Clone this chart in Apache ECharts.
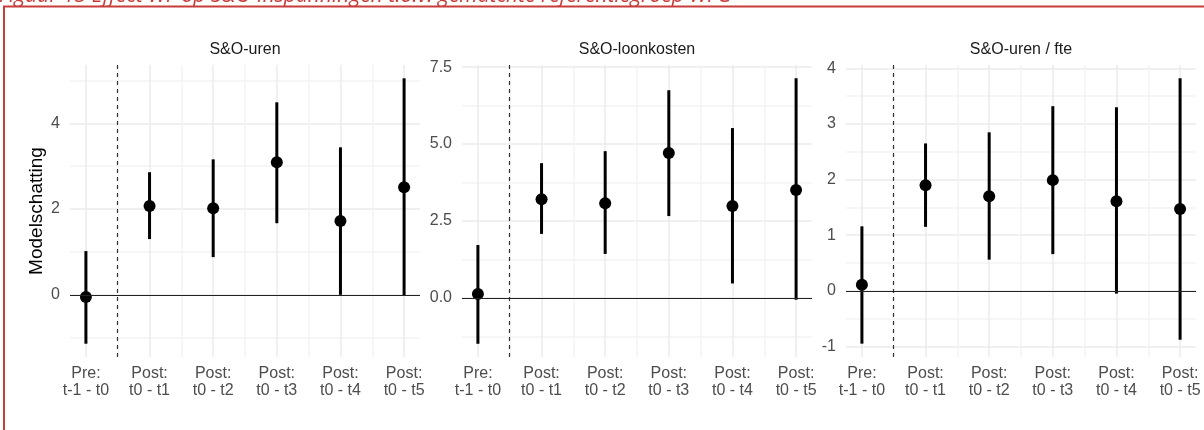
<!DOCTYPE html>
<html>
<head>
<meta charset="utf-8">
<script src="https://cdn.jsdelivr.net/npm/echarts@6/dist/echarts.min.js"></script>
<style>
  html, body { margin: 0; padding: 0; background: #fff; }
  #chart { width: 1204px; height: 430px; }
</style>
</head>
<body>
<div id="chart"></div>
<script>
// x-as: periodes (posities 1..6)
const periods = ['Pre:\nt-1 - t0', 'Post:\nt0 - t1', 'Post:\nt0 - t2', 'Post:\nt0 - t3', 'Post:\nt0 - t4', 'Post:\nt0 - t5'];
const periodPos = [1, 2, 3, 4, 5, 6];
const xGridVals = [1, 1.5, 2, 2.5, 3, 3.5, 4, 4.5, 5, 5.5, 6];

const panelTitles = ['S&O-uren', 'S&O-loonkosten', 'S&O-uren / fte'];

// S&O-uren
const urenEst = [-0.05, 2.07, 2.02, 3.09, 1.72, 2.51];
const urenLo = [-1.14, 1.30, 0.88, 1.67, 0.00, -0.02];
const urenHi = [1.02, 2.86, 3.16, 4.49, 3.44, 5.05];
const urenTicks = [0, 2, 4];
const urenGrid = [-1, 0, 1, 2, 3, 4, 5];
const urenRange = [-1.45, 5.36];

// S&O-loonkosten
const loonEst = [0.13, 3.21, 3.08, 4.71, 2.99, 3.51];
const loonLo = [-1.49, 2.08, 1.43, 2.66, 0.47, -0.06];
const loonHi = [1.72, 4.38, 4.77, 6.75, 5.52, 7.14];
const loonTicks = [0, 2.5, 5, 7.5];
const loonGrid = [-1.25, 0, 1.25, 2.5, 3.75, 5, 6.25, 7.5];
const loonRange = [-1.92, 7.57];

// S&O-uren / fte
const fteEst = [0.11, 1.90, 1.70, 1.99, 1.61, 1.47];
const fteLo = [-0.95, 1.15, 0.56, 0.66, -0.05, -0.88];
const fteHi = [1.16, 2.65, 2.85, 3.32, 3.30, 3.82];
const fteTicks = [-1, 0, 1, 2, 3, 4];
const fteGrid = [-1, -0.5, 0, 0.5, 1, 1.5, 2, 2.5, 3, 3.5, 4];
const fteRange = [-1.19, 4.06];

const MAJOR = '#ebebeb';
const MINOR = '#f3f3f3';
const FONT = '"Liberation Sans", Arial, sans-serif';

const panels = [
  { est: urenEst, lo: urenLo, hi: urenHi, ticks: urenTicks, grid: urenGrid, range: urenRange,
    gridColors: [MINOR, MAJOR], fmt: v => String(v) },
  { est: loonEst, lo: loonLo, hi: loonHi, ticks: loonTicks, grid: loonGrid, range: loonRange,
    gridColors: [MINOR, MAJOR], fmt: v => v.toFixed(1) },
  { est: fteEst, lo: fteLo, hi: fteHi, ticks: fteTicks, grid: fteGrid, range: fteRange,
    gridColors: [MAJOR, MINOR], fmt: v => String(v) },
];

const lefts = [70, 462, 846];
const gridW = 350;

const grids = [], xAxes = [], yAxes = [], series = [], graphics = [];

panels.forEach((p, i) => {
  grids.push({ left: lefts[i], top: 65, width: gridW, height: 292 });

  xAxes.push({
    type: 'value', gridIndex: i, min: 0.75, max: 6.25,
    axisLine: { show: false },
    axisTick: { show: false, customValues: xGridVals },
    splitLine: { show: true, lineStyle: { color: [MAJOR, MINOR], width: 1.5 } },
    axisLabel: {
      customValues: periodPos,
      formatter: v => periods[Math.round(v) - 1],
      color: '#4d4d4d', fontSize: 16, fontFamily: FONT, lineHeight: 17, margin: 8,
    },
  });

  yAxes.push({
    type: 'value', gridIndex: i, min: p.range[0], max: p.range[1],
    axisLine: { show: false },
    axisTick: { show: false, customValues: p.grid },
    splitLine: { show: true, lineStyle: { color: p.gridColors, width: 1.5 } },
    axisLabel: {
      customValues: p.ticks, formatter: p.fmt,
      color: '#4d4d4d', fontSize: 16, fontFamily: FONT, margin: 10,
    },
  });

  // betrouwbaarheidsintervallen
  series.push({
    type: 'custom', xAxisIndex: i, yAxisIndex: i, z: 3,
    data: periodPos.map((x, k) => [x, p.lo[k], p.hi[k]]),
    encode: { x: 0, y: [1, 2] },
    renderItem(params, api) {
      const a = api.coord([api.value(0), api.value(1)]);
      const b = api.coord([api.value(0), api.value(2)]);
      return {
        type: 'line',
        shape: { x1: a[0], y1: a[1], x2: b[0], y2: b[1] },
        style: { stroke: '#000', lineWidth: 3 },
      };
    },
  });

  // puntschattingen + referentielijnen
  series.push({
    type: 'scatter', xAxisIndex: i, yAxisIndex: i, z: 4,
    data: periodPos.map((x, k) => [x, p.est[k]]),
    symbolSize: 12,
    itemStyle: { color: '#000', opacity: 1 },
    markLine: {
      silent: true, symbol: ['none', 'none'], label: { show: false },
      data: [
        { xAxis: 1.5, lineStyle: { color: '#333', width: 1.2, type: [4, 4] } },
        { yAxis: 0, lineStyle: { color: '#222', width: 1.2, type: 'solid' } },
      ],
    },
  });

  graphics.push({
    type: 'text',
    style: {
      text: panelTitles[i], x: lefts[i] + gridW / 2, y: 50,
      align: 'center', verticalAlign: 'middle',
      font: '16px ' + FONT, fill: '#1a1a1a',
    },
  });
});

// y-as titel
graphics.push({
  type: 'text', x: 37, y: 211, rotation: Math.PI / 2,
  style: {
    text: 'Modelschatting', x: 0, y: 0, align: 'center', verticalAlign: 'middle',
    font: '19px ' + FONT, fill: '#000',
  },
});

// figuurkop (afgesneden) en rode kader
graphics.push({
  type: 'text',
  style: {
    text: 'Figuur 13 Effect WF op S&O-inspanningen t.o.v. gematchte referentiegroep WFG',
    x: -1, y: 7, align: 'left', verticalAlign: 'bottom',
    font: 'italic 21px "Open Sans", sans-serif', fill: '#c83c3c',
  },
});
graphics.push({
  type: 'line', shape: { x1: 3, y1: 6.5, x2: 1204, y2: 6.5 },
  style: { stroke: '#c83c3c', lineWidth: 2 },
});
graphics.push({
  type: 'line', shape: { x1: 4, y1: 6, x2: 4, y2: 430 },
  style: { stroke: '#c83c3c', lineWidth: 2 },
});

const chart = echarts.init(document.getElementById('chart'));
chart.setOption({
  animation: false,
  backgroundColor: '#fff',
  grid: grids,
  xAxis: xAxes,
  yAxis: yAxes,
  series,
  graphic: graphics,
});
</script>
</body>
</html>
